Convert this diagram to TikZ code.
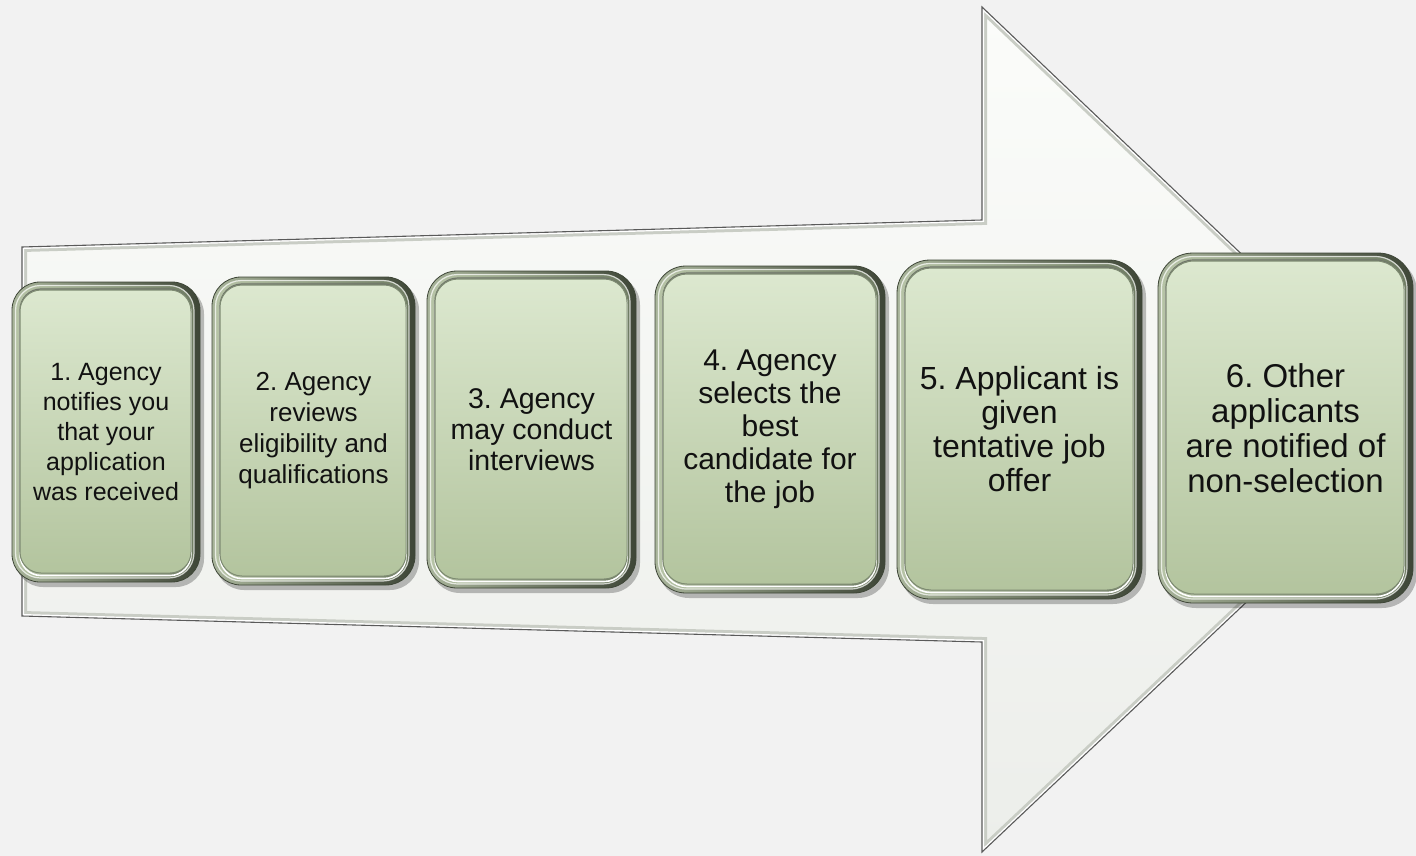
\documentclass[tikz,border=0pt]{standalone}
\usepackage{fontspec}
\setmainfont{Liberation Sans}
\frenchspacing
\definecolor{pagebg}{HTML}{F2F2F2}
\definecolor{arrowtop}{HTML}{FBFCFA}
\definecolor{arrowbot}{HTML}{ECEEEA}
\definecolor{arrowband}{HTML}{C9CDC5}
\definecolor{arrowline}{HTML}{5A5A5A}
\definecolor{rimlight}{HTML}{A9B59B}
\definecolor{rimdark}{HTML}{3E4637}
\definecolor{rimmidl}{HTML}{B7C4A7}
\definecolor{rimmidr}{HTML}{6F7C63}
\definecolor{paneltop}{HTML}{DCE8CF}
\definecolor{panelbot}{HTML}{B3C49E}
\definecolor{panelline}{HTML}{7E8B72}
\definecolor{cardtextcol}{HTML}{111111}
\begin{document}
\begin{tikzpicture}[x=1pt,y=-1pt,
  cardshadow/.style={fill=black,opacity=0.25},
  cardrim/.style={left color=rimlight,right color=rimdark,draw=rimdark,line width=0.8pt},
  cardrim2/.style={left color=rimmidl,right color=rimmidr},
  cardpanel/.style={top color=paneltop,bottom color=panelbot,draw=panelline,line width=1pt},
  cardtext/.style={align=center,text=cardtextcol,inner sep=0pt},
  arrowbody/.style={top color=arrowtop,bottom color=arrowbot},
  arrowedge/.style={draw=arrowline,line width=1.1pt,line join=miter}]

\useasboundingbox (0,0) rectangle (1416,856);
\fill[pagebg] (0,0) rectangle (1416,856);
\clip (0,0) rectangle (1416,856);

% corners of the large process arrow (the point itself sits behind the last card)
\coordinate (sTL) at (22,247);
\coordinate (sTR) at (982,220);
\coordinate (hT)  at (982,7);
\coordinate (tipT) at (1400,405);
\coordinate (tipB) at (1400,457);
\coordinate (hB)  at (982,852);
\coordinate (sBR) at (982,642);
\coordinate (sBL) at (22,616);
\def\arrowoutline{(sTL) -- (sTR) -- (hT) -- (tipT) -- (tipB) -- (hB) -- (sBR) -- (sBL) -- cycle}

\path[arrowbody] \arrowoutline;
\begin{scope}
  \clip \arrowoutline;
  \draw[arrowband,line width=10pt,line join=miter] \arrowoutline;
  \draw[white,line width=4pt,line join=miter] \arrowoutline;
\end{scope}
\draw[arrowedge] \arrowoutline;

% bevelled step card: name, x1, y1, x2, y2, corner radius, font size, line skip, text
\newcommand\stepcard[9]{%
  \fill[cardshadow,rounded corners=#6pt] (#2+3,#3+4) rectangle (#4+4,#5+5);
  \path[cardrim,rounded corners=#6pt] (#2,#3) rectangle (#4,#5);
  \path[cardrim2,rounded corners=#6pt-3pt] (#2+3,#3+3) rectangle (#4-6,#5-4);
  \draw[white,opacity=0.7,line width=1.2pt,rounded corners=#6pt-3pt] (#2+3.5,#3+3.5) rectangle (#4-6,#5-4);
  % highlight under the lower edge and dark seam above the upper edge of the panel
  \draw[white,line width=1.6pt,rounded corners=#6pt-7pt] (#2+8,#3+10.5) rectangle (#4-9,#5-6.5);
  \draw[rimdark!75,line width=1.2pt,rounded corners=#6pt-7pt] (#2+8,#3+7) rectangle (#4-10,#5-10);
  \path[cardpanel,rounded corners=#6pt-7pt] (#2+8,#3+8) rectangle (#4-9,#5-9);
  \node[cardtext,font=\fontsize{#7}{#8}\selectfont] (#1) at ({(#2+#4)/2},{(#3+#5)/2}) {#9};
}

\stepcard{c1}{12}{282}{200}{582}{28}{25}{30}{1. Agency\\notifies you\\that your\\application\\was received}
\stepcard{c2}{212}{277}{415}{585}{29}{26}{31}{2. Agency\\reviews\\eligibility and\\qualifications}
\stepcard{c3}{427}{271}{636}{588}{30}{28.5}{31}{3. Agency\\may conduct\\interviews}
\stepcard{c4}{655}{266}{885}{593}{31}{30}{33}{4. Agency\\selects the\\best\\candidate for\\the job}
\stepcard{c5}{897}{260}{1142}{599}{33}{32}{34}{5. Applicant is\\given\\tentative job\\offer}
\stepcard{c6}{1158}{253}{1413}{603}{35}{33}{35}{6. Other\\applicants\\are notified of\\non-selection}

\end{tikzpicture}
\end{document}
